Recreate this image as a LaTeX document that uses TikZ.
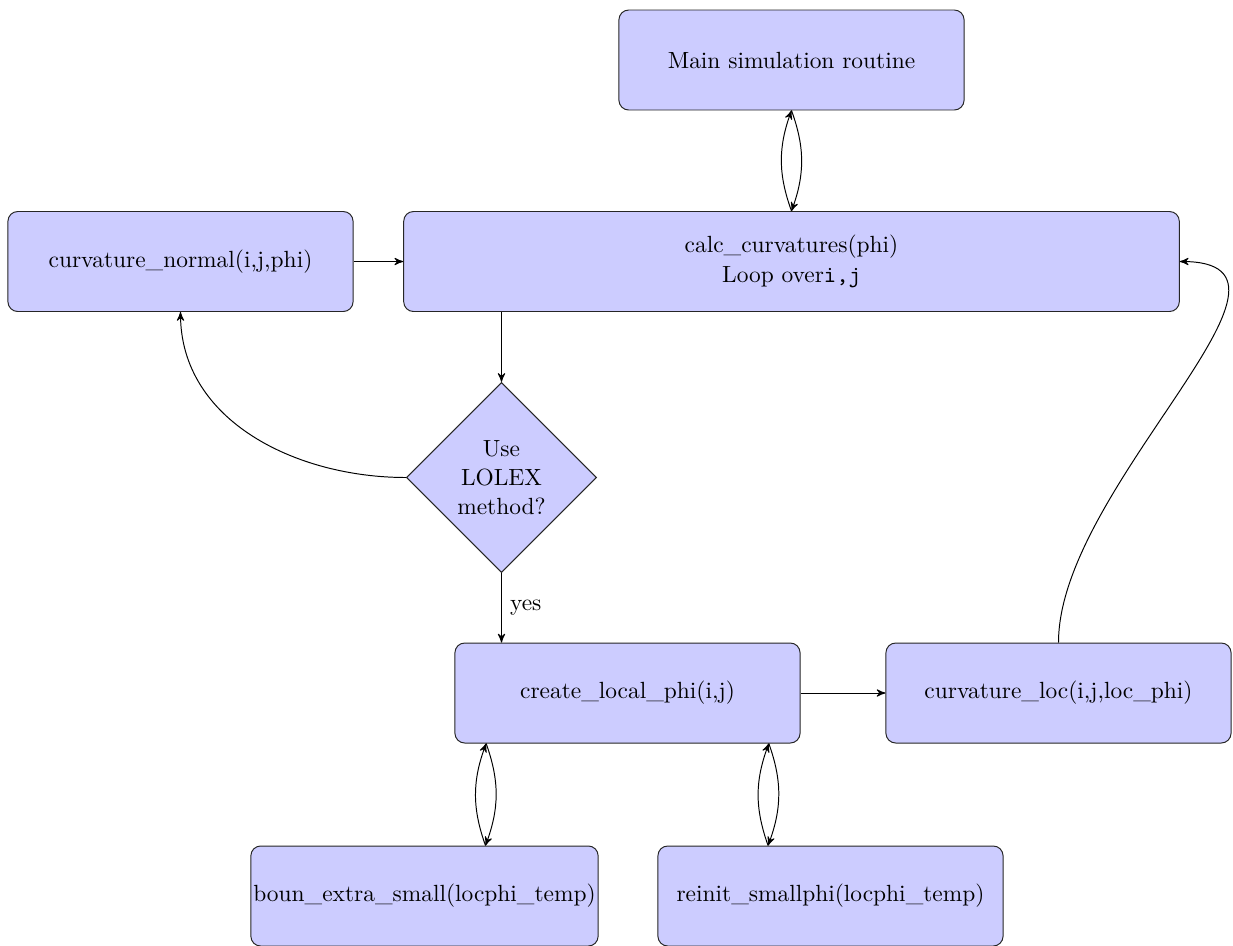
\documentclass[tikz,border=0pt]{standalone}
\usepackage{amsmath}
\usetikzlibrary{arrows, arrows.meta}
\usetikzlibrary{shapes.geometric}
\usetikzlibrary{positioning}

\tikzset{
	block/.style={rectangle, draw=black!85, fill=blue!20, rounded corners=4pt, minimum width=141.5pt, minimum height=41pt, inner xsep=1pt, align=center},
	decision/.style={diamond, draw=black!85, fill=blue!20, minimum width=78pt, minimum height=78pt, inner sep=0pt, align=center},
	line/.style={draw, ->, >=stealth'}
}

\begin{document}
\begin{tikzpicture}[x=0.41pt,y=0.41pt,yscale=-1,xscale=1,font=\fontsize{9.6}{12}\selectfont]
		\useasboundingbox (0,0) rectangle (1233,945);
		
		%Blocks
		\node[block] (main) at (791.5,60) {Main simulation routine};
		\node[block, minimum width=318pt] (calc) at (791.5,261.5) {calc\_curvatures(phi)\\Loop over\texttt{i,j}};
		\node[block] (normal) at (180.5,261.5) {curvature\_normal(i,j,phi)};
		\node[decision] (lolex) at (501.5,477.5) {Use\\LOLEX\\method?};
		\node[block] (create) at (627.5,693) {create\_local\_phi(i,j)};
		\node[block] (loc) at (1058.5,693) {curvature\_loc(i,j,loc\_phi)};
		\node[block] (boun) at (424.5,896) {boun\_extra\_small(locphi\_temp)};
		\node[block] (reinit) at (830.5,896) {reinit\_smallphi(locphi\_temp)};
		
		%Calls and returns (yscale=-1, so 90 points down)
		\path[line] (main.south) to[bend right=20] (calc.north);
		\path[line] (calc.north) to[bend right=20] (main.south);
		\path[line] (lolex.north |- calc.south) -- (lolex.north);
		\path[line] (normal) -- (calc);
		\path[line] (lolex.west) to[out=180, in=90] (normal.south);
		\path[line] (lolex.south) -- node[right] {yes} (lolex.south |- create.north);
		\path[line] (create) -- (loc);
		\path[line] (loc.north) to[out=-90, in=0] (calc.east);
		
		%Helper routines
		\path[line] ([xshift=13pt]create.south west) to[bend right=20] ([xshift=25pt]boun.north);
		\path[line] ([xshift=25pt]boun.north) to[bend right=20] ([xshift=13pt]create.south west);
		\path[line] ([xshift=-13pt]create.south east) to[bend right=20] ([xshift=-25.6pt]reinit.north);
		\path[line] ([xshift=-25.6pt]reinit.north) to[bend right=20] ([xshift=-13pt]create.south east);
		
	\end{tikzpicture}
\end{document}
